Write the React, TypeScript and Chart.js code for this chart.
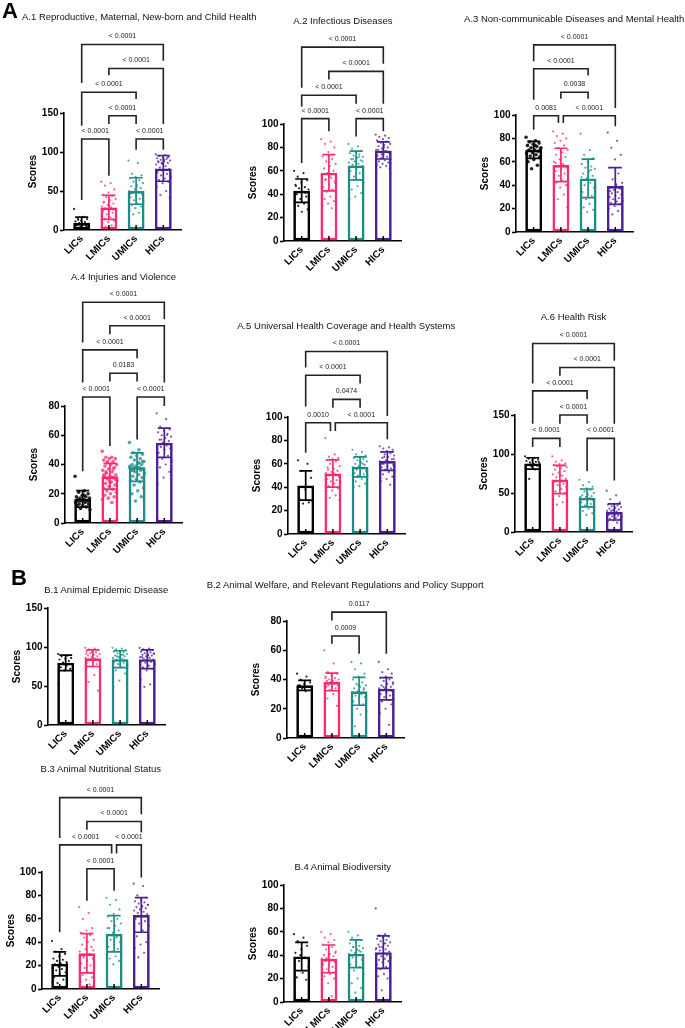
import React, { useEffect, useRef } from 'react';
import { Chart, registerables } from 'chart.js';
Chart.register(...registerables);

const FONT = "'Liberation Sans', Arial, Helvetica, sans-serif";
const CATS = ['LICs', 'LMICs', 'UMICs', 'HICs'];
const COLORS = ['#000000', '#FF2A6D', '#1C8C86', '#4C1F92'];
const POINT_COLORS = ['rgba(0,0,0,0.85)', 'rgba(255,42,109,0.75)', 'rgba(28,140,134,0.75)', 'rgba(76,31,146,0.75)'];

// ---------- A.1 ----------
const A1_MEAN = [9, 29, 50, 79];
const A1_SD = [7.5, 15.5, 17, 16.5];
const A1_LIC = [27, 17, 15, 14, 12, 11, 10, 9, 8, 7, 6, 5, 4, 3, 2, 13, 6, 9];
const A1_LMIC = [62, 60, 57, 52, 48, 45, 44, 42, 40, 38, 36, 34, 32, 30, 29, 28, 27, 25, 24, 22, 20, 18, 16, 14, 12, 10, 8, 6, 4, 3, 31, 35, 26];
const A1_UMIC = [89, 86, 72, 70, 68, 66, 64, 62, 60, 58, 56, 54, 52, 50, 49, 48, 46, 44, 42, 40, 38, 36, 34, 32, 30, 28, 25, 22, 20, 16, 55, 47];
const A1_HIC = [97, 96, 95, 94, 93, 92, 91, 90, 89, 88, 87, 86, 85, 84, 82, 80, 78, 76, 74, 72, 70, 68, 66, 64, 62, 60, 55, 50, 45, 41, 90, 88, 93, 86];
const A1_CMP: [number, number, string][] = [[0, 1, '< 0.0001'], [2, 3, '< 0.0001'], [1, 2, '< 0.0001'], [0, 2, '< 0.0001'], [1, 3, '< 0.0001'], [0, 3, '< 0.0001']];
const A1_BRK = [[116.6, 38.5, 69.4], [116.6, 102.8, 102.8], [146.5, 136, 136], [176.6, 133.6, 168], [207, 198.4, 136], [237.8, 188.5, 217]];

// ---------- A.2 ----------
const A2_MEAN = [43, 58.3, 64.6, 77.4];
const A2_SD = [10, 15.5, 12.3, 7.3];
const A2_LIC = [60, 58, 55, 52, 50, 48, 46, 45, 44, 42, 40, 38, 36, 34, 32, 30, 27, 25, 47, 41];
const A2_LMIC = [87, 85, 83, 80, 76, 72, 70, 68, 66, 64, 62, 60, 58, 56, 54, 52, 50, 48, 46, 44, 42, 40, 38, 36, 34, 32, 30, 28, 53, 51, 55];
const A2_UMIC = [83, 81, 79, 77, 76, 75, 74, 73, 72, 71, 70, 69, 68, 67, 66, 65, 64, 62, 60, 58, 55, 50, 47, 44, 41, 38, 36, 72, 70, 68];
const A2_HIC = [91, 90, 89, 88, 87, 86, 85, 84, 83, 82, 81, 80, 79, 78, 77, 76, 75, 74, 73, 72, 71, 70, 69, 68, 67, 66, 65, 64, 63, 62, 80, 78, 76, 74];
const A2_CMP: [number, number, string][] = [[0, 1, '< 0.0001'], [2, 3, '< 0.0001'], [0, 2, '< 0.0001'], [1, 3, '< 0.0001'], [0, 3, '< 0.0001']];
const A2_BRK = [[104.6, 66.6, 93.7], [104.6, 89.4, 93.7], [124.6, 115, 117.4], [145, 138, 117.4], [165.7, 130.9, 151.4]];

// ---------- A.3 ----------
const A3_MEAN = [70.2, 57.3, 45.8, 39.3];
const A3_SD = [7.2, 14.3, 16.5, 15.7];
const A3_LIC = [81, 78, 77, 76, 75, 74, 73, 72, 71, 70, 70, 69, 68, 67, 66, 65, 64, 62, 60, 57, 54, 72, 74];
const A3_LMIC = [86, 84, 82, 80, 78, 76, 74, 72, 70, 68, 66, 64, 62, 60, 58, 56, 55, 54, 52, 50, 48, 46, 44, 42, 40, 38, 35, 32, 28, 21, 57, 59];
const A3_UMIC = [84, 70, 66, 63, 60, 58, 56, 55, 54, 52, 50, 48, 46, 44, 42, 40, 38, 36, 34, 31, 28, 26, 24, 21, 19, 17, 47, 53];
const A3_HIC = [85, 78, 72, 66, 62, 55, 50, 45, 42, 40, 38, 37, 36, 35, 34, 33, 32, 31, 30, 29, 28, 27, 26, 25, 24, 22, 20, 18, 15, 39, 41, 35];
const A3_CMP: [number, number, string][] = [[0, 1, '0.0081'], [1, 3, '< 0.0001'], [1, 2, '0.0038'], [0, 2, '< 0.0001'], [0, 3, '< 0.0001']];
const A3_BRK = [[99.4, 87.4, 93.1, 0, -0.09], [99.4, 93.1, 90.3, 0.09, 0], [119.5, 113.8, 113.8], [139.5, 113, 133.8], [159.9, 146, 106]];

// ---------- A.4 ----------
const A4_MEAN = [16.5, 32, 38.2, 54.9];
const A4_SD = [5.7, 8.8, 9.7, 10];
const A4_LIC = [32, 22, 21, 20, 19, 18, 18, 17, 17, 16, 16, 15, 15, 14, 14, 13, 13, 12, 12, 11, 10, 9, 19, 15];
const A4_LMIC = [49, 45, 45, 44, 44, 43, 42, 41, 40, 40, 39, 38, 37, 36, 35, 34, 33, 32, 32, 31, 30, 29, 28, 27, 26, 25, 24, 23, 22, 21, 20, 19, 18, 17, 16, 14, 35, 30, 28, 33, 37, 42];
const A4_UMIC = [55, 50, 48, 47, 46, 45, 44, 43, 42, 41, 40, 40, 39, 39, 38, 38, 37, 37, 36, 36, 35, 34, 33, 32, 31, 30, 29, 28, 26, 24, 22, 20, 18, 15, 38, 41, 36, 42];
const A4_HIC = [75, 71, 66, 64, 63, 62, 61, 60, 59, 58, 57, 56, 55, 54, 53, 52, 51, 50, 48, 46, 44, 42, 40, 38, 35, 31, 27, 60, 57];
const A4_CMP: [number, number, string][] = [[0, 1, '< 0.0001'], [2, 3, '< 0.0001'], [1, 2, '0.0183'], [0, 2, '< 0.0001'], [1, 3, '< 0.0001'], [0, 3, '< 0.0001']];
const A4_BRK = [[86.2, 35.4, 52.6], [86.2, 57.1, 80], [102.4, 96.7, 96.7], [118.4, 96, 112.7], [134.9, 129.1, 96], [150.9, 123.4, 139.4]];

// ---------- A.5 ----------
const A5_MEAN = [41.4, 51.7, 57.4, 62.3];
const A5_SD = [12.5, 11.7, 8.6, 7.9];
const A5_LIC = [63, 60, 54, 48, 38, 30, 27, 26, 28];
const A5_LMIC = [82, 68, 66, 65, 64, 63, 62, 60, 58, 56, 55, 54, 53, 52, 51, 50, 49, 48, 47, 46, 45, 44, 43, 41, 39, 37, 35, 33, 31, 29, 52, 57];
const A5_UMIC = [72, 70, 68, 67, 66, 65, 64, 63, 62, 61, 60, 59, 58, 57, 56, 55, 54, 53, 52, 51, 50, 49, 47, 45, 43, 41, 40, 60];
const A5_HIC = [75, 74, 73, 72, 71, 70, 69, 68, 67, 66, 65, 64, 63, 62, 61, 60, 59, 58, 57, 56, 55, 54, 53, 51, 49, 47, 45, 42, 66, 64, 62, 60];
const A5_CMP: [number, number, string][] = [[0, 1, '0.0010'], [1, 3, '< 0.0001'], [1, 2, '0.0474'], [0, 2, '< 0.0001'], [0, 3, '< 0.0001']];
const A5_BRK = [[95.1, 69.4, 88, 0, -0.09], [95.1, 88, 80.9, 0.09, 0], [115.1, 108, 108], [135.7, 108.9, 128.6], [156, 142.3, 100.9]];

// ---------- A.6 ----------
const A6_MEAN = [87.9, 67.3, 43.7, 25.7];
const A6_SD = [7.3, 18, 11.4, 10.3];
const A6_LIC = [97, 95, 94, 93, 92, 91, 90, 89, 88, 87, 86, 85, 84, 82, 80, 68, 90, 88];
const A6_LMIC = [97, 92, 90, 88, 87, 86, 85, 84, 83, 82, 80, 78, 76, 74, 72, 70, 68, 66, 64, 62, 60, 57, 55, 52, 50, 46, 42, 38, 35, 58, 73];
const A6_UMIC = [67, 64, 60, 58, 56, 55, 54, 52, 50, 48, 47, 46, 45, 44, 43, 42, 41, 40, 38, 36, 34, 32, 30, 27, 24, 22, 45, 43];
const A6_HIC = [53, 47, 42, 38, 36, 35, 34, 33, 32, 31, 30, 29, 28, 27, 26, 25, 24, 23, 22, 21, 20, 19, 18, 17, 16, 15, 14, 12, 27, 24, 22];
const A6_CMP: [number, number, string][] = [[0, 1, '< 0.0001'], [2, 3, '< 0.0001'], [1, 2, '< 0.0001'], [0, 2, '< 0.0001'], [1, 3, '< 0.0001'], [0, 3, '< 0.0001']];
const A6_BRK = [[120, 108.9, 108.9], [120, 78, 66], [150, 138.9, 138.9], [180.9, 138.9, 170.2], [210.9, 200.2, 138.9], [241.7, 190.3, 219.5]];

// ---------- B.1 ----------
const B1_MEAN = [79.7, 85.6, 84.4, 84.4];
const B1_SD = [10, 10.6, 10.8, 12];
const B1_LIC = [91, 89, 88, 86, 85, 84, 82, 80, 78, 76, 74, 72, 70, 52];
const B1_LMIC = [99, 98, 97, 96, 95, 94, 93, 92, 91, 90, 89, 88, 87, 86, 85, 84, 83, 82, 80, 78, 75, 70, 64, 55, 44, 93, 91];
const B1_UMIC = [99, 98, 97, 96, 95, 94, 93, 92, 91, 90, 89, 88, 87, 86, 85, 84, 83, 82, 81, 80, 78, 76, 74, 70, 66, 57, 49, 90, 88];
const B1_HIC = [99, 98, 97, 96, 95, 94, 93, 92, 91, 90, 90, 89, 88, 87, 86, 85, 84, 83, 82, 81, 80, 78, 76, 74, 72, 70, 58, 52, 49, 92, 89, 87];

// ---------- B.2 ----------
const B2_MEAN = [36, 38.3, 31.9, 33.7];
const B2_SD = [3.4, 6, 9.5, 7.6];
const B2_LIC = [44, 42, 40, 38, 37, 36, 35, 34, 33, 32, 36, 35];
const B2_LMIC = [60, 51, 45, 44, 43, 42, 41, 40, 40, 39, 39, 38, 38, 37, 37, 36, 36, 35, 35, 34, 33, 32, 30, 27, 22, 38, 41];
const B2_UMIC = [52, 51, 47, 44, 42, 40, 38, 37, 36, 35, 34, 33, 32, 31, 30, 29, 28, 27, 25, 23, 20, 18, 16, 8, 34, 36];
const B2_HIC = [52, 47, 45, 44, 42, 41, 40, 39, 38, 37, 36, 35, 34, 34, 33, 33, 32, 31, 30, 29, 28, 27, 26, 25, 23, 20, 17, 9, 35, 37];
const B2_CMP: [number, number, string][] = [[1, 2, '0.0009'], [1, 3, '0.0117']];
const B2_BRK = [[69.7, 64.5, 57.6], [86.1, 80.4, 57.6]];

// ---------- B.3 ----------
const B3_MEAN = [21.5, 30.5, 47.2, 63.3];
const B3_SD = [10.2, 16.8, 15.5, 14.8];
const B3_LIC = [41, 34, 32, 30, 28, 26, 25, 24, 23, 22, 21, 20, 19, 18, 17, 16, 14, 12, 10, 8, 5, 22];
const B3_LMIC = [70, 65, 60, 52, 50, 48, 46, 44, 42, 40, 38, 36, 34, 32, 30, 28, 26, 24, 22, 20, 18, 16, 14, 12, 10, 8, 6, 4, 27, 33];
const B3_UMIC = [78, 76, 72, 68, 64, 62, 60, 58, 56, 54, 52, 50, 48, 46, 44, 42, 40, 38, 36, 34, 32, 30, 28, 26, 24, 21, 52, 45];
const B3_HIC = [90, 88, 80, 78, 76, 75, 74, 73, 72, 71, 70, 69, 68, 67, 66, 65, 64, 62, 60, 58, 56, 54, 50, 45, 40, 38, 35, 31, 27, 72, 70];
const B3_CMP: [number, number, string][] = [[1, 2, '< 0.0001'], [0, 2, '< 0.0001'], [2, 3, '< 0.0001'], [1, 3, '< 0.0001'], [0, 3, '< 0.0001']];
const B3_BRK = [[102.8, 75.4, 83.9], [123.2, 48.6, 115.8, 0, -0.09], [123.2, 115.8, 95.2, 0.09, 0], [143.2, 136.2, 134], [163.6, 129.1, 149.4]];

// ---------- B.4 ----------
const B4_MEAN = [38.9, 36.9, 41.2, 42.6];
const B4_SD = [12, 11.8, 11.9, 13.9];
const B4_LIC = [58, 55, 52, 48, 45, 42, 38, 35, 30, 25, 21, 19, 40];
const B4_LMIC = [60, 58, 55, 53, 51, 49, 47, 45, 43, 41, 40, 39, 38, 37, 36, 35, 34, 33, 32, 30, 28, 26, 24, 22, 20, 16, 12, 5, 37, 42];
const B4_UMIC = [60, 57, 55, 53, 51, 50, 48, 47, 46, 45, 44, 43, 42, 41, 40, 38, 36, 34, 32, 30, 27, 24, 20, 16, 12, 8, 5, 44, 47];
const B4_HIC = [80, 58, 57, 56, 55, 54, 53, 52, 51, 50, 49, 48, 47, 46, 45, 44, 43, 42, 41, 40, 39, 38, 37, 36, 35, 34, 32, 30, 28, 26, 24, 22, 20, 10, 45, 50, 47];

// ---------- layout ----------
const PLOT_W = 117;
const PLOT_H = 117;
const PAD_L = 50;
const PAD_T = 125;
const PAD_R = 15;
const PAD_B = 40;
const Y_W = 30;
const X_H = 36;
const CW = PAD_L + PLOT_W + PAD_R;
const CH = PAD_T + PLOT_H + PAD_B;

type PanelCfg = {
  title: string;
  titleLeft?: number;
  titleY: number;
  axisX: number;
  zeroY: number;
  max: number;
  step: number;
  mean: number[];
  sd: number[];
  pts: number[][];
  cmp: [number, number, string][];
  brk: number[][];
  radius: number[];
};

const SMALL = [1.1, 1.1, 1.1, 1.1];

const PANELS: PanelCfg[] = [
  { title: 'A.1 Reproductive, Maternal, New-born and Child Health', titleLeft: 22, titleY: 17.3, axisX: 64.3, zeroY: 230, max: 150, step: 50, mean: A1_MEAN, sd: A1_SD, pts: [A1_LIC, A1_LMIC, A1_UMIC, A1_HIC], cmp: A1_CMP, brk: A1_BRK, radius: SMALL },
  { title: 'A.2 Infectious Diseases', titleY: 21, axisX: 284.3, zeroY: 241, max: 100, step: 20, mean: A2_MEAN, sd: A2_SD, pts: [A2_LIC, A2_LMIC, A2_UMIC, A2_HIC], cmp: A2_CMP, brk: A2_BRK, radius: SMALL },
  { title: 'A.3 Non-communicable Diseases and Mental Health', titleY: 19, axisX: 515.7, zeroY: 231.7, max: 100, step: 20, mean: A3_MEAN, sd: A3_SD, pts: [A3_LIC, A3_LMIC, A3_UMIC, A3_HIC], cmp: A3_CMP, brk: A3_BRK, radius: [1.8, 1.1, 1.1, 1.1] },
  { title: 'A.4 Injuries and Violence', titleY: 276.7, axisX: 65, zeroY: 523.3, max: 80, step: 20, mean: A4_MEAN, sd: A4_SD, pts: [A4_LIC, A4_LMIC, A4_UMIC, A4_HIC], cmp: A4_CMP, brk: A4_BRK, radius: [1.8, 1.8, 1.8, 1.1] },
  { title: 'A.5 Universal Health Coverage and Health Systems', titleY: 326, axisX: 287.7, zeroY: 534.3, max: 100, step: 20, mean: A5_MEAN, sd: A5_SD, pts: [A5_LIC, A5_LMIC, A5_UMIC, A5_HIC], cmp: A5_CMP, brk: A5_BRK, radius: SMALL },
  { title: 'A.6 Health Risk', titleY: 317.3, axisX: 515, zeroY: 532.3, max: 150, step: 50, mean: A6_MEAN, sd: A6_SD, pts: [A6_LIC, A6_LMIC, A6_UMIC, A6_HIC], cmp: A6_CMP, brk: A6_BRK, radius: SMALL },
  { title: 'B.1 Animal Epidemic Disease', titleY: 590, axisX: 47.7, zeroY: 725, max: 150, step: 50, mean: B1_MEAN, sd: B1_SD, pts: [B1_LIC, B1_LMIC, B1_UMIC, B1_HIC], cmp: [], brk: [], radius: SMALL },
  { title: 'B.2 Animal Welfare, and Relevant Regulations and Policy Support', titleY: 585, axisX: 286.7, zeroY: 737.7, max: 80, step: 20, mean: B2_MEAN, sd: B2_SD, pts: [B2_LIC, B2_LMIC, B2_UMIC, B2_HIC], cmp: B2_CMP, brk: B2_BRK, radius: SMALL },
  { title: 'B.3 Animal Nutritional Status', titleY: 769.3, axisX: 42.3, zeroY: 989, max: 100, step: 20, mean: B3_MEAN, sd: B3_SD, pts: [B3_LIC, B3_LMIC, B3_UMIC, B3_HIC], cmp: B3_CMP, brk: B3_BRK, radius: SMALL },
  { title: 'B.4 Animal Biodiversity', titleY: 866.7, axisX: 284.3, zeroY: 1001.7, max: 100, step: 20, mean: B4_MEAN, sd: B4_SD, pts: [B4_LIC, B4_LMIC, B4_UMIC, B4_HIC], cmp: [], brk: [], radius: SMALL },
];

const jitter = (k: number) => (((k * 0.6180339887) % 1) - 0.5) * 0.56;

function PanelChart({ cfg }: { cfg: PanelCfg }) {
  const ref = useRef<HTMLCanvasElement | null>(null);
  useEffect(() => {
    if (!ref.current) return;
    const extras = {
      id: 'extras',
      afterDatasetsDraw(chart: any) {
        const { ctx, chartArea } = chart;
        const x = chart.scales.x;
        const y = chart.scales.y;
        ctx.save();
        // error bars and upward x ticks
        cfg.mean.forEach((m, i) => {
          const cx = x.getPixelForValue(i);
          const t = y.getPixelForValue(m + cfg.sd[i]);
          const b = y.getPixelForValue(m - cfg.sd[i]);
          ctx.strokeStyle = COLORS[i];
          ctx.lineWidth = 1.7;
          ctx.beginPath();
          ctx.moveTo(cx, t);
          ctx.lineTo(cx, b);
          ctx.moveTo(cx - 6.5, t);
          ctx.lineTo(cx + 6.5, t);
          ctx.moveTo(cx - 6.5, b);
          ctx.lineTo(cx + 6.5, b);
          ctx.stroke();
          ctx.strokeStyle = '#000';
          ctx.lineWidth = 1.5;
          ctx.beginPath();
          ctx.moveTo(cx, chartArea.bottom);
          ctx.lineTo(cx, chartArea.bottom - 5);
          ctx.stroke();
        });
        // significance brackets
        ctx.strokeStyle = '#222';
        ctx.lineWidth = 1.6;
        ctx.fillStyle = '#222';
        ctx.font = `7px ${FONT}`;
        ctx.textAlign = 'center';
        ctx.textBaseline = 'middle';
        cfg.cmp.forEach(([a, b, label], k) => {
          const [lvl, le, re, dxl = 0, dxr = 0] = cfg.brk[k];
          const xl = x.getPixelForValue(a + dxl);
          const xr = x.getPixelForValue(b + dxr);
          const yl = y.getPixelForValue(lvl);
          ctx.beginPath();
          ctx.moveTo(xl, y.getPixelForValue(le));
          ctx.lineTo(xl, yl);
          ctx.lineTo(xr, yl);
          ctx.lineTo(xr, y.getPixelForValue(re));
          ctx.stroke();
          ctx.fillText(label, (xl + xr) / 2, yl - 8);
        });
        // y-axis title
        ctx.fillStyle = '#000';
        ctx.font = `bold 10px ${FONT}`;
        ctx.translate(chartArea.left - 31, (chartArea.top + chartArea.bottom) / 2);
        ctx.rotate(-Math.PI / 2);
        ctx.fillText('Scores', 0, 0);
        ctx.restore();
      },
    };
    const chart = new Chart(ref.current, {
      type: 'bar',
      data: {
        datasets: [
          {
            type: 'bar',
            data: cfg.mean.map((m, i) => ({ x: i, y: m })),
            backgroundColor: '#ffffff',
            borderColor: COLORS,
            borderWidth: 2.7,
            borderSkipped: false,
            barPercentage: 0.62,
            categoryPercentage: 1,
            order: 2,
          } as any,
          ...cfg.pts.map((arr, i) => ({
            type: 'scatter',
            data: arr.map((v, k) => ({ x: i + jitter(k), y: v })),
            pointRadius: cfg.radius[i],
            pointBackgroundColor: POINT_COLORS[i],
            pointBorderWidth: 0,
            order: 1,
          } as any)),
        ],
      },
      options: {
        animation: false,
        responsive: false,
        devicePixelRatio: 1,
        events: [],
        layout: {
          padding: { left: PAD_L - Y_W, top: PAD_T, right: PAD_R, bottom: PAD_B - X_H },
          autoPadding: false,
        },
        plugins: { legend: { display: false }, tooltip: { enabled: false }, title: { display: false } },
        scales: {
          x: {
            type: 'linear',
            min: -0.65,
            max: 3.65,
            bounds: 'data',
            offset: false,
            afterBuildTicks: (s: any) => {
              s.ticks = [0, 1, 2, 3].map((v) => ({ value: v }));
            },
            afterFit: (s: any) => {
              s.height = X_H;
            },
            ticks: {
              autoSkip: false,
              minRotation: 45,
              maxRotation: 45,
              padding: 3,
              color: '#000',
              font: { family: FONT, size: 10, weight: 'bold' },
              callback: (v: any) => CATS[v as number] ?? '',
            },
            grid: { display: false, drawTicks: false },
            border: { display: true, color: '#000', width: 1.6 },
          } as any,
          y: {
            type: 'linear',
            min: 0,
            max: cfg.max,
            afterFit: (s: any) => {
              s.width = Y_W;
            },
            ticks: {
              stepSize: cfg.step,
              padding: 1.5,
              color: '#000',
              font: { family: FONT, size: 10, weight: 'bold' },
            },
            grid: { drawOnChartArea: false, drawTicks: true, tickLength: 4, tickColor: '#000', tickWidth: 1.6, color: '#000' },
            border: { display: true, color: '#000', width: 1.6 },
          } as any,
        },
      },
      plugins: [extras],
    });
    return () => chart.destroy();
  }, [cfg]);
  const left = Math.round(cfg.axisX - PAD_L);
  const top = Math.round(cfg.zeroY - PLOT_H - PAD_T);
  return (
    <canvas
      ref={ref}
      width={CW}
      height={CH}
      style={{ position: 'absolute', left, top, width: CW, height: CH }}
    />
  );
}

function PanelTitle({ cfg }: { cfg: PanelCfg }) {
  const center = cfg.axisX + PLOT_W / 2;
  const style: React.CSSProperties = {
    position: 'absolute',
    top: cfg.titleY - 6,
    fontFamily: FONT,
    fontSize: 9.5,
    lineHeight: '12px',
    whiteSpace: 'nowrap',
    color: '#111',
  };
  if (cfg.titleLeft !== undefined) {
    style.left = cfg.titleLeft;
  } else {
    style.left = center - 160;
    style.width = 320;
    style.textAlign = 'center';
  }
  return <div style={style}>{cfg.title}</div>;
}

export default function App() {
  return (
    <div style={{ position: 'absolute', left: 0, top: 0, width: 685, height: 1028, background: '#fff', overflow: 'hidden' }}>
      {PANELS.map((p, i) => (
        <PanelChart key={'c' + i} cfg={p} />
      ))}
      {PANELS.map((p, i) => (
        <PanelTitle key={'t' + i} cfg={p} />
      ))}
      <div style={{ position: 'absolute', left: 2, top: 0, fontFamily: FONT, fontWeight: 'bold', fontSize: 22, lineHeight: '22px', color: '#000' }}>A</div>
      <div style={{ position: 'absolute', left: 11, top: 567, fontFamily: FONT, fontWeight: 'bold', fontSize: 22, lineHeight: '22px', color: '#000' }}>B</div>
    </div>
  );
}
